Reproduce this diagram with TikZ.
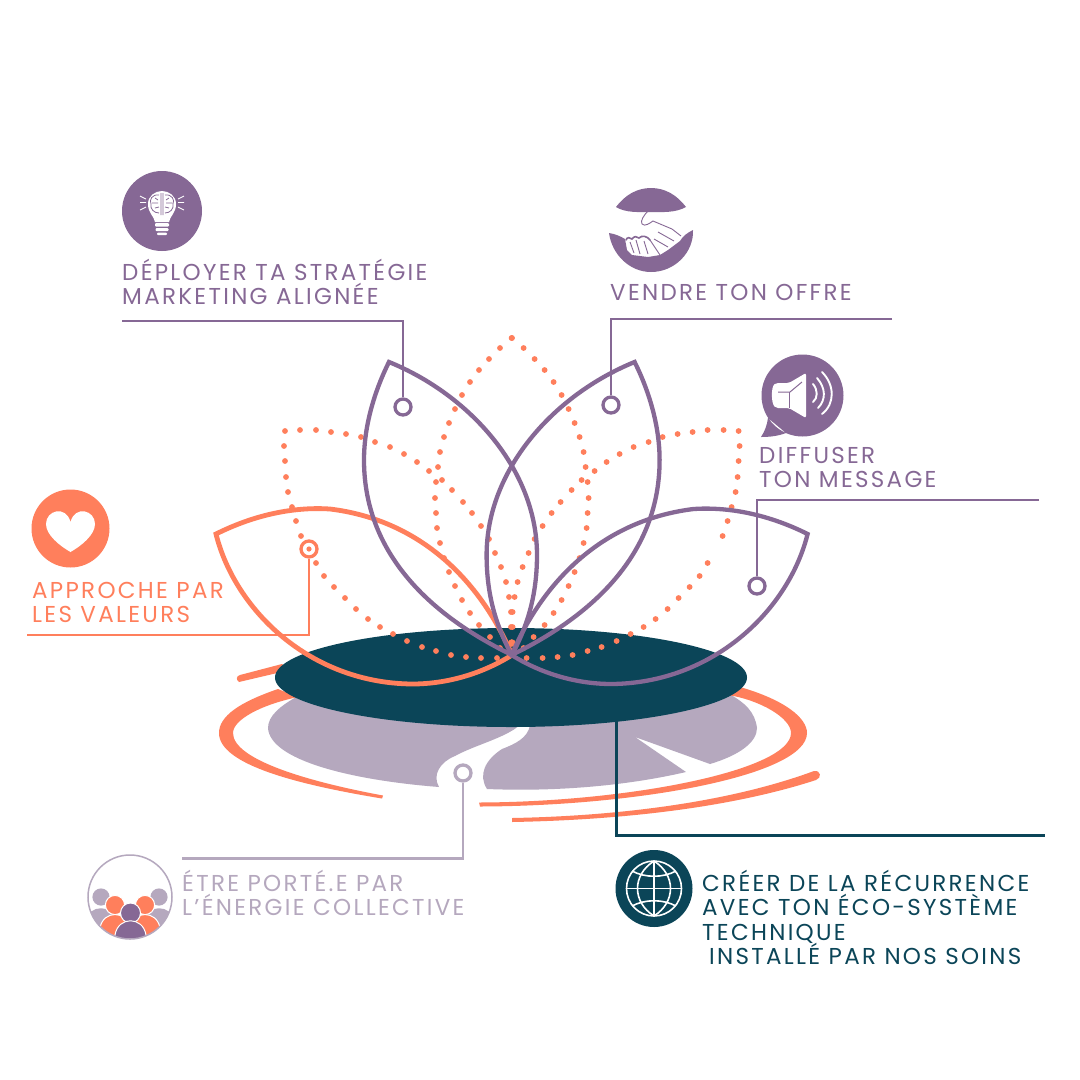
\documentclass[tikz,border=0pt]{standalone}
\usepackage{fontspec}
\newfontfamily\popfont[LetterSpace=10]{Poppins}
\definecolor{pur}{HTML}{866895}
\definecolor{ora}{HTML}{FF7F5C}
\definecolor{tea}{HTML}{0B4558}
\definecolor{lil}{HTML}{B5A8BE}
\tikzset{
  lbl/.style={anchor=south west,inner sep=0pt,align=left,text depth=0pt,font=\popfont\fontsize{23}{24.5}\selectfont},
  wire/.style={line width=2.5pt,line join=miter},
  ringend/.style={circle,draw,fill=white,line width=3.3pt,minimum size=16pt,inner sep=0pt},
  petal/.style={line width=4.3pt,line join=miter,line cap=butt},
}
\def\sidepetal{(216,534) .. controls (260,512) and (300,507) .. (330,509) .. controls (420,520) and (480,580) .. (512,655) .. controls (485,672) and (450,684) .. (412,684) .. controls (310,683) and (235,610) .. (216,534) -- cycle}
\def\uppetal{(389,362) .. controls (470,395) and (537,470) .. (537,555) .. controls (537,600) and (525,630) .. (512,655) .. controls (440,620) and (364,560) .. (364,460) .. controls (364,425) and (375,390) .. (389,362) -- cycle}
\begin{document}
\begin{tikzpicture}[x=1pt,y=-1pt]
\useasboundingbox (0,0) rectangle (1080,1080);
\fill[white] (0,0) rectangle (1080,1080);
% lily pad
\fill[lil] (298,696) .. controls (280,706) and (268,716) .. (268,728) .. controls (270,760) and (350,780) .. (439,787)
  .. controls (432,775) and (440,762) .. (455,756) .. controls (475,745) and (505,738) .. (520,725) -- (530,725)
  .. controls (528,738) and (515,744) .. (502,749) .. controls (485,760) and (478,775) .. (487,789)
  .. controls (560,792) and (630,785) .. (686,772) -- (635,737) -- (710,764)
  .. controls (740,755) and (757,742) .. (757,728) .. controls (755,712) and (745,703) .. (731,695) -- cycle;
% ripples
\fill[ora] (278,689) .. controls (240,702) and (219,716) .. (219,733) .. controls (219,765) and (300,785) .. (382,798.5)
  -- (383,795.5) .. controls (310,782) and (233,760) .. (233,733) .. controls (233,720) and (260,705) .. (298,697) -- cycle;
\fill[ora] (740,687) .. controls (785,700) and (807,718) .. (807,733) .. controls (807,775) and (640,806) .. (480,806.5)
  -- (479,802.5) .. controls (630,802) and (791,770) .. (791,733) .. controls (791,718) and (760,700) .. (728,695) -- cycle;
\fill[ora] (239,682) .. controls (236,680) and (236,676) .. (240,675) -- (282,664) -- (290,670) -- cycle;
\fill[ora] (512,818) .. controls (620,816) and (730,802) .. (814,771) .. controls (821,770) and (822,778) .. (816,780) .. controls (730,808) and (620,820) .. (512,822) -- cycle;
% connectors beneath
\coordinate (tealstart) at (616,720);
\coordinate (tealelbow) at (616,835);
\coordinate (tealend) at (1045,835);
\draw[tea,line width=3pt] (tealstart) -- (tealelbow) -- (tealend);
% disc
\fill[tea] (511,677.5) ellipse [x radius=236,y radius=49.5];
% dots
\foreach \x/\y in {512/338,500/348,489/359,479/370,470/382,462/395,455/409,449/423,444/437,440/452,438/467,436/482,435/498,436/513,437/528,440/543,444/558,449/572,455/586,462/600,470/613,479/625,490/637,500/648,
 442/480,452/490,463/502,472/513,481/526,489/539,495/553,501/567,506/582,509/597,511/612,511/627,
 285/431,300/430,316/430,331/432,346/434,361/437,375/442,390/447,404/454,417/462,429/471,
 284/446,285/461,286/477,288/492,292/507,296/521,301/536,316/563,324/576,334/587,345/598,356/609,368/619,380/627,393/634,407/641,422/647,436/651,451/655,466/657,481/658,497/658}
{ \fill[ora] (\x,\y) circle (2.9); \fill[ora] ({1023.6-\x},\y) circle (2.9); }
\fill[ora] (511.8,643) circle (3.8);
% petals
\draw[ora,petal,line width=4.8pt] \sidepetal;
\draw[pur,petal] \uppetal;
\begin{scope}[shift={(1023.6,0)},xscale=-1]
\draw[pur,petal] \sidepetal;
\draw[pur,petal] \uppetal;
\end{scope}
% connectors
\node[ringend,draw=pur] (e1) at (403,407) {};
\coordinate (w1a) at (122,321); \coordinate (w1b) at (403,321);
\draw[pur,wire] (w1a) -- (w1b) -- (e1);
\node[ringend,draw=pur] (e2) at (611,405) {};
\coordinate (w2a) at (892,319); \coordinate (w2b) at (611,319);
\draw[pur,wire] (w2a) -- (w2b) -- (e2);
\node[ringend,draw=pur] (e3) at (757,586) {};
\coordinate (w3a) at (1039,500); \coordinate (w3b) at (757,500);
\draw[pur,wire] (w3a) -- (w3b) -- (e3);
\node[ringend,draw=ora] (e4) at (309,549) {};
\fill[ora] (e4) circle (2.6);
\coordinate (w4a) at (27,635); \coordinate (w4b) at (309,635);
\draw[ora,wire] (w4a) -- (w4b) -- (e4);
\node[ringend,draw=lil] (e5) at (463,773) {};
\coordinate (w5a) at (182,858.5); \coordinate (w5b) at (463,858.5);
\draw[lil,wire] (w5a) -- (w5b) -- (e5);
% labels
\node[lbl,text=pur] (t1) at (122,305) {DÉPLOYER TA STRATÉGIE\\MARKETING ALIGNÉE};
\node[lbl,text=pur] (t2) at (610,301) {VENDRE TON OFFRE};
\node[lbl,text=pur] (t3) at (759,488) {DIFFUSER\\TON MESSAGE};
\node[lbl,text=ora] (t4) at (32,623) {APPROCHE PAR\\LES VALEURS};
\node[lbl,text=lil] (t5) at (182,916) {ÉTRE PORTÉ.E PAR\\L’ÉNERGIE COLLECTIVE};
\node[lbl,text=tea] (t6) at (702,965) {CRÉER DE LA RÉCURRENCE\\AVEC TON ÉCO-SYSTÈME\\TECHNIQUE\\\hspace*{7pt}INSTALLÉ PAR NOS SOINS};
% brain icon
\fill[pur] (162,211) circle (40);
\fill[white] (155,222) .. controls (154,216) and (148,213) .. (148,204) .. controls (148,196) and (155,191) .. (162,191) .. controls (169,191) and (176,196) .. (176,204) .. controls (176,213) and (170,216) .. (169,222) -- cycle;
\fill[white,rounded corners=1pt] (155,223) rectangle (169,226.5) (155.5,228) rectangle (168.5,231) (157,232.5) rectangle (167,235);
\draw[pur,line width=.8pt] (161,193) -- (161,215) (163,193) -- (163,215)
 (159,195) .. controls (152,194) and (149,200) .. (151,204) .. controls (150,209) and (154,213) .. (159,213)
 (165,195) .. controls (172,194) and (175,200) .. (173,204) .. controls (174,209) and (170,213) .. (165,213)
 (152,203) -- (158,203) (155,198) -- (158,200) (155,208) -- (159,207)
 (172,203) -- (166,203) (169,198) -- (166,200) (169,208) -- (165,207);
\draw[white,line width=.9pt] (140,196) -- (146,199) (140,202.5) -- (146,202.5) (140,210) -- (146,207)
 (184,196) -- (178,199) (184,202.5) -- (178,202.5) (184,210) -- (178,207);
% handshake icon
\fill[pur] (616,207) .. controls (625,195) and (637,188) .. (651,188) .. controls (665,188) and (677,195) .. (686,207) .. controls (675,213) and (663,212) .. (651,212) .. controls (638,212) and (626,213) .. (616,207) -- cycle;
\fill[pur] (609,233) .. controls (612,255) and (630,272) .. (651,272) .. controls (675,272) and (694,252) .. (693,230) .. controls (687,233) and (683,236) .. (680,241) -- (668,250) -- (660,255) -- (648,257) -- (632,255) -- (627,250) -- (625,239) .. controls (620,236) and (615,234) .. (609,233) -- cycle;
\draw[pur,line width=1.6pt,line cap=round] (626,240) .. controls (627,237) and (630,237) .. (632,239) .. controls (634,236) and (637,236) .. (639,238) .. controls (642,235) and (647,236) .. (650,240);
\draw[pur,line width=.9pt] (648,211) .. controls (644,215) and (640,221) .. (642,224) .. controls (645,227) and (650,223) .. (653,221) -- (672,229) -- (681,236) (654,239) -- (668,247) (658,232) -- (674,241) (650,240) -- (660,255)
 (644,241) -- (648,254) (636,240) -- (640,254) (630,242) -- (634,253);
% speaker icon
\fill[pur] (802.5,395.5) circle (41) (768,418) .. controls (767,425) and (765,431) .. (761,437) .. controls (770,437) and (778,436) .. (786,433) -- cycle;
\fill[white,rounded corners=2pt] (789,383) -- (776,383) .. controls (771,387) and (771,403) .. (776,408) -- (789,408) -- (806,418) -- (806,373) -- cycle;
\draw[pur,line width=1pt] (778,392) -- (790,392) -- (802,382);
\draw[pur,line width=.5pt] (789.5,392) -- (789.5,408);
\draw[white,line width=1.9pt,line cap=round] (813,384) .. controls (818,390) and (818,398) .. (813,402)
 (817,378) .. controls (826,388) and (826,400) .. (818,408)
 (822,372) .. controls (835,385) and (835,404) .. (822,414);
% heart icon
\fill[ora] (70.5,528.5) circle (39);
\fill[white] (70.5,552) .. controls (60,546) and (46,535) .. (46,524) .. controls (46,510) and (66,505) .. (70.5,522) .. controls (75,505) and (95,510) .. (95,524) .. controls (95,535) and (81,546) .. (70.5,552) -- cycle;
% group icon
\begin{scope}
\clip (130,897) circle (42);
\fill[lil] (101,897) circle (8.6);
\fill[lil] (159,897) circle (8.6);
\fill[lil] (86,940) -- (86,921) .. controls (88,904) and (114,904) .. (116,921) -- (116,940) -- cycle;
\fill[lil] (144,940) -- (144,921) .. controls (146,904) and (172,904) .. (174,921) -- (174,940) -- cycle;
\fill[ora,draw=white,line width=1pt] (115,905) circle (9.6);
\fill[ora,draw=white,line width=1pt] (145,905) circle (9.6);
\fill[ora,draw=white,line width=1pt] (98,942) -- (100,928) .. controls (103,910) and (127,910) .. (130,928) -- (132,942) -- cycle;
\fill[ora,draw=white,line width=1pt] (128,942) -- (130,928) .. controls (133,910) and (157,910) .. (160,928) -- (162,942) -- cycle;
\fill[pur,draw=white,line width=1pt] (130.5,913) circle (10);
\fill[pur,draw=white,line width=1pt] (114,942) -- (115,935) .. controls (118,916) and (143,916) .. (146,935) -- (147,942) -- cycle;
\end{scope}
\draw[lil,line width=1.5pt] (130,897) circle (42);
% globe icon
\fill[tea] (654,888.5) circle (38.5);
\begin{scope}[white,line width=1.6pt]
\draw (654,888.5) circle (27.5);
\draw (654,861) -- (654,916) (626.5,888.5) -- (681.5,888.5);
\draw (654,861) .. controls (632,875) and (632,902) .. (654,916);
\draw (654,861) .. controls (676,875) and (676,902) .. (654,916);
\draw (632,871) .. controls (645,878) and (663,878) .. (676,871);
\draw (632,906) .. controls (645,899) and (663,899) .. (676,906);
\end{scope}
\end{tikzpicture}
\end{document}
